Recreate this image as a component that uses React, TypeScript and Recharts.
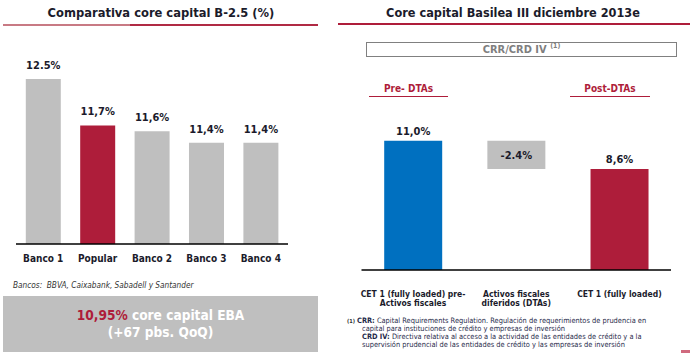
import { Bar, BarChart, Cell, LabelList, XAxis, YAxis } from "recharts";

// left panel: core capital B-2.5 comparison
const banks = ["Banco 1", "Popular", "Banco 2", "Banco 3", "Banco 4"];
const coreCapital = [12.5, 11.7, 11.6, 11.4, 11.4];
const coreLabels = ["12.5%", "11,7%", "11,6%", "11,4%", "11,4%"];

// right panel: Basel III walk
const steps = [
  ["CET 1 (fully loaded) pre-", "Activos fiscales"],
  ["Activos fiscales", "diferidos (DTAs)"],
  ["CET 1 (fully loaded)"],
];
const stepValues = [11.0, -2.4, 8.6];
const stepLabels = ["11,0%", "-2.4%", "8,6%"];
const stepColors = ["#0070c0", "#bfbfbf", "#ae1d3a"];

const FONT = "Tahoma, 'DejaVu Sans Condensed', 'DejaVu Sans', sans-serif";
const RED = "#ae1d3a";
const GREY = "#bfbfbf";
const INK = "#1b1b2b";

const bankRows = banks.map((name, i) => ({ name, value: coreCapital[i], label: coreLabels[i] }));

let running = 0;
const stepRows = steps.map((lines, i) => {
  const v = stepValues[i];
  const row = v < 0 ? { base: running + v, size: -v } : { base: 0, size: v };
  running = v < 0 ? running + v : v;
  return { name: lines.join("|"), ...row, label: stepLabels[i] };
});

function BankTick({ x, y, payload }: any) {
  return (
    <text x={x} y={y + 16} textAnchor="middle" fontFamily={FONT} fontWeight="bold" fontSize={10} fill={INK}>
      {payload.value}
    </text>
  );
}

function StepTick({ x, y, payload }: any) {
  const lines = String(payload.value).split("|");
  return (
    <text textAnchor="middle" fontFamily={FONT} fontWeight="bold" fontSize={8.5} fill={INK}>
      {lines.map((l, i) => (
        <tspan key={i} x={x} y={y + 25 + i * 9}>
          {l}
        </tspan>
      ))}
    </text>
  );
}

function TopLabel({ x, y, width, value }: any) {
  return (
    <text x={x + width / 2} y={y - 10} textAnchor="middle" fontFamily={FONT} fontWeight="bold" fontSize={11} fill={INK}>
      {value}
    </text>
  );
}

function StepLabel({ x, y, width, height, value }: any) {
  const inside = String(value).startsWith("-");
  return (
    <text
      x={x + width / 2}
      y={inside ? y + height / 2 + 4 : y - 6}
      textAnchor="middle"
      fontFamily={FONT}
      fontWeight="bold"
      fontSize={11}
      fill={INK}
    >
      {value}
    </text>
  );
}

const abs = (style: React.CSSProperties): React.CSSProperties => ({ position: "absolute", ...style });

export default function App() {
  return (
    <div style={abs({ left: 0, top: 0, width: 690, height: 363, background: "#fff", overflow: "hidden", fontFamily: FONT })}>
      {/* titles */}
      <div style={abs({ left: 0, top: 5, width: 322, textAlign: "center", fontSize: 12.8, fontWeight: "bold", color: INK })}>
        Comparativa core capital B-2.5 (%)
      </div>
      <div style={abs({ left: 3, top: 24, width: 127, height: 1.5, background: "#c87a84" })} />
      <div style={abs({ left: 130, top: 24, width: 188, height: 1.5, background: "#b02a44" })} />
      <div style={abs({ left: 345, top: 5, width: 336, textAlign: "center", fontSize: 12.6, fontWeight: "bold", color: INK })}>
        Core capital Basilea III diciembre 2013e
      </div>
      <div style={abs({ left: 338, top: 23, width: 352, height: 2, background: RED })} />

      {/* left chart */}
      <div style={abs({ left: 0, top: 0 })}>
        <BarChart
          width={300}
          height={270}
          data={bankRows}
          margin={{ top: 60, right: 12, bottom: 0, left: 16 }}
          barCategoryGap="18%"
        >
          <YAxis hide domain={[9.65, 12.83]} allowDataOverflow />
          <XAxis
            dataKey="name"
            height={26}
            tickSize={0}
            tickLine={false}
            axisLine={{ stroke: "#000", strokeWidth: 1.5 }}
            tick={<BankTick />}
            interval={0}
          />
          <Bar dataKey="value" isAnimationActive={false}>
            {bankRows.map((r) => (
              <Cell key={r.name} fill={r.name === "Popular" ? RED : GREY} />
            ))}
            <LabelList dataKey="label" content={<TopLabel />} />
          </Bar>
        </BarChart>
      </div>

      <div style={abs({ left: 13, top: 280, fontSize: 8.2, fontStyle: "italic", color: "#333" })}>
        Bancos:&nbsp; BBVA, Caixabank, Sabadell y Santander
      </div>
      <div
        style={abs({
          left: 3,
          top: 296,
          width: 315,
          height: 56,
          background: GREY,
          color: "#fff",
          fontWeight: "bold",
          fontSize: 13.6,
          lineHeight: "17px",
          textAlign: "center",
          paddingTop: 11,
          boxSizing: "border-box",
        })}
      >
        <span style={{ color: RED }}>10,95%</span> core capital EBA
        <br />
        (+67 pbs. QoQ)
      </div>

      {/* right panel header */}
      <div
        style={abs({
          left: 366,
          top: 42,
          width: 311,
          height: 15,
          border: "1.5px solid #808080",
          boxSizing: "border-box",
          textAlign: "center",
          color: "#7f7f7f",
          fontWeight: "bold",
          fontSize: 11,
          lineHeight: "13px",
        })}
      >
        CRR/CRD IV <sup style={{ fontSize: 7, lineHeight: 0 }}>(1)</sup>
      </div>
      <div style={abs({ left: 369, top: 83, width: 79, textAlign: "center", color: RED, fontWeight: "bold", fontSize: 10 })}>
        Pre- DTAs
      </div>
      <div style={abs({ left: 369, top: 96, width: 79, height: 1, background: RED })} />
      <div style={abs({ left: 570, top: 83, width: 80, textAlign: "center", color: RED, fontWeight: "bold", fontSize: 10 })}>
        Post-DTAs
      </div>
      <div style={abs({ left: 570, top: 96, width: 80, height: 1, background: RED })} />

      {/* right chart */}
      <div style={abs({ left: 345, top: 0 })}>
        <BarChart
          width={345}
          height={315}
          data={stepRows}
          margin={{ top: 129, right: 19, bottom: 0, left: 16.5 }}
          barCategoryGap="22%"
        >
          <YAxis hide domain={[0, 12]} />
          <XAxis
            dataKey="name"
            height={45}
            tickSize={0}
            tickLine={false}
            axisLine={{ stroke: "#000", strokeWidth: 1.5 }}
            tick={<StepTick />}
            interval={0}
          />
          <Bar dataKey="base" stackId="w" fill="transparent" isAnimationActive={false} />
          <Bar dataKey="size" stackId="w" isAnimationActive={false}>
            {stepRows.map((r, i) => (
              <Cell key={r.name} fill={stepColors[i]} />
            ))}
            <LabelList dataKey="label" content={<StepLabel />} />
          </Bar>
        </BarChart>
      </div>

      {/* footnote */}
      <div style={abs({ left: 347, top: 318, fontSize: 5.5, fontWeight: "bold", color: "#333" })}>(1)</div>
      <div style={abs({ left: 357, top: 317, fontSize: 7.4, lineHeight: "8px", color: "#1f2a4a", whiteSpace: "nowrap" })}>
        <b>CRR:</b> Capital Requirements Regulation. Regulación de requerimientos de prudencia en
        <div style={{ paddingLeft: 5 }}>
          capital para instituciones de crédito y empresas de inversión
          <br />
          <b>CRD IV:</b> Directiva relativa al acceso a la actividad de las entidades de crédito y a la
          <br />
          supervisión prudencial de las entidades de crédito y las empresas de inversión
        </div>
      </div>
      <div style={abs({ left: 681, top: 350, width: 9, height: 3, background: "#d06a7e" })} />
    </div>
  );
}
